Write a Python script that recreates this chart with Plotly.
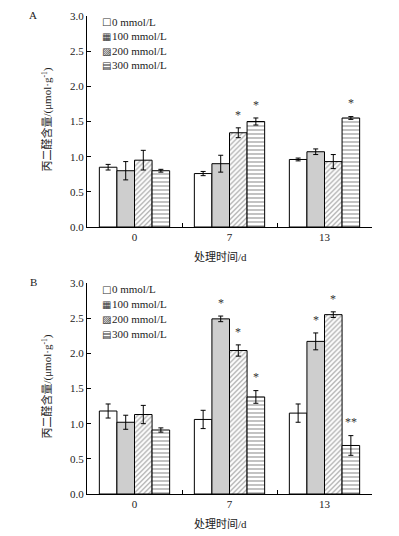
import plotly.graph_objects as go

categories = ["0", "7", "13"]
series_names = ["0 mmol/L", "100 mmol/L", "200 mmol/L", "300 mmol/L"]
legend_glyphs = ["□", "▦", "▨", "▤"]

# Panel A values and errors (per series, per category)
a_values = [[0.85, 0.76, 0.96], [0.80, 0.90, 1.07], [0.95, 1.34, 0.93], [0.80, 1.50, 1.55]]
a_errors = [[0.04, 0.03, 0.02], [0.13, 0.12, 0.04], [0.14, 0.07, 0.10], [0.02, 0.05, 0.02]]
a_marks = [["", "", ""], ["", "", ""], ["", "*", ""], ["", "*", "*"]]

# Panel B values and errors
b_values = [[1.18, 1.06, 1.15], [1.02, 2.49, 2.17], [1.13, 2.04, 2.55], [0.91, 1.38, 0.69]]
b_errors = [[0.10, 0.13, 0.13], [0.10, 0.04, 0.12], [0.13, 0.08, 0.04], [0.03, 0.09, 0.14]]
b_marks = [["", "", ""], ["", "*", "*"], ["", "*", "*"], ["", "*", "**"]]

y_ticks = [0.0, 0.5, 1.0, 1.5, 2.0, 2.5, 3.0]
y_title = "丙二醛含量/(μmol·g<sup>-1</sup>)"
x_title = "处理时间/d"
panel_labels = ["A", "B"]

patterns = [
    dict(shape=""),
    dict(shape=".", size=2, solidity=0.5, fgcolor="#1e1e1e", bgcolor="white", fillmode="overlay"),
    dict(shape="/", size=3.5, solidity=0.3, fgcolor="#333333", bgcolor="white", fillmode="overlay"),
    dict(shape="-", size=4, solidity=0.3, fgcolor="#333333", bgcolor="white", fillmode="overlay"),
]

FONT = "Liberation Serif, Times New Roman, Noto Sans CJK SC, serif"
TXT = "#222222"
W, H = 399, 536
BARGAP = 0.26

fig = go.Figure()

panels = [
    dict(values=a_values, errors=a_errors, marks=a_marks, xa="x", ya="y", top=16, bottom=227,
         legend_rows=[22, 36.5, 51, 65.5]),
    dict(values=b_values, errors=b_errors, marks=b_marks, xa="x2", ya="y2", top=283, bottom=494,
         legend_rows=[289, 304, 319, 334]),
]

annotations = []
for pi, p in enumerate(panels):
    nser = len(series_names)
    bw = (1 - BARGAP) / nser
    for si, name in enumerate(series_names):
        fig.add_trace(go.Bar(
            x=categories, y=p["values"][si], name=name,
            xaxis=p["xa"], yaxis=p["ya"], showlegend=False,
            marker=dict(color="white", line=dict(color="black", width=1), pattern=patterns[si]),
            error_y=dict(type="data", array=p["errors"][si], color="black", thickness=1, width=2.5),
        ))
        for ci, cat in enumerate(categories):
            mark = p["marks"][si][ci]
            if mark:
                annotations.append(dict(
                    x=ci + (si - (nser - 1) / 2) * bw,
                    y=p["values"][si][ci] + p["errors"][si][ci] + 0.06,
                    xref=p["xa"], yref=p["ya"], text=mark, showarrow=False,
                    xanchor="center", yanchor="bottom",
                    font=dict(size=12, family=FONT, color="#333333"),
                ))
        # legend entry (glyph + label)
        ry = 1 - p["legend_rows"][si] / H
        annotations.append(dict(x=106 / W, y=ry, xref="paper", yref="paper",
                                text=legend_glyphs[si], showarrow=False,
                                xanchor="center", yanchor="middle",
                                font=dict(size=10, family="DejaVu Sans", color="#333333")))
        annotations.append(dict(x=110 / W, y=ry, xref="paper", yref="paper",
                                text=name, showarrow=False,
                                xanchor="left", yanchor="middle",
                                font=dict(size=11, family=FONT, color=TXT)))
    # axis titles and panel label
    mid = (p["top"] + p["bottom"]) / 2
    annotations.append(dict(x=47 / W, y=1 - (mid - 2) / H, xref="paper", yref="paper",
                            text=y_title, textangle=-90, showarrow=False,
                            xanchor="center", yanchor="middle",
                            font=dict(size=11, family=FONT, color=TXT)))
    annotations.append(dict(x=220 / W, y=1 - (p["bottom"] + 30) / H, xref="paper", yref="paper",
                            text=x_title, showarrow=False,
                            xanchor="center", yanchor="middle",
                            font=dict(size=11, family=FONT, color=TXT)))
    annotations.append(dict(x=33 / W, y=1 - (p["top"] - 1) / H, xref="paper", yref="paper",
                            text=panel_labels[pi], showarrow=False,
                            xanchor="center", yanchor="middle",
                            font=dict(size=11, family=FONT, color=TXT)))

xdom = [87 / W, 372 / W]
axis_common_x = dict(domain=xdom, showline=True, linecolor="black", linewidth=1,
                     ticks="inside", tickson="boundaries", ticklen=4, tickcolor="black",
                     tickfont=dict(size=11, family=FONT, color=TXT), automargin=False)
axis_common_y = dict(range=[0, 3], tickvals=y_ticks, tickformat=".1f", showline=True,
                     linecolor="black", linewidth=1, ticks="inside", ticklen=4,
                     tickcolor="black", showgrid=False, zeroline=False,
                     tickfont=dict(size=11, family=FONT, color=TXT), automargin=False)

fig.update_layout(
    width=W, height=H, margin=dict(l=0, r=0, t=0, b=0),
    paper_bgcolor="white", plot_bgcolor="white",
    barmode="group", bargap=BARGAP, bargroupgap=0,
    xaxis=dict(**axis_common_x, anchor="y"),
    yaxis=dict(**axis_common_y, domain=[1 - 227 / H, 1 - 16 / H], anchor="x"),
    xaxis2=dict(**axis_common_x, anchor="y2"),
    yaxis2=dict(**axis_common_y, domain=[1 - 494 / H, 1 - 283 / H], anchor="x2"),
    annotations=annotations,
    showlegend=False,
)

fig.write_html("out.html", config={"displayModeBar": False},
               post_script="document.body.style.margin = '0px';")
